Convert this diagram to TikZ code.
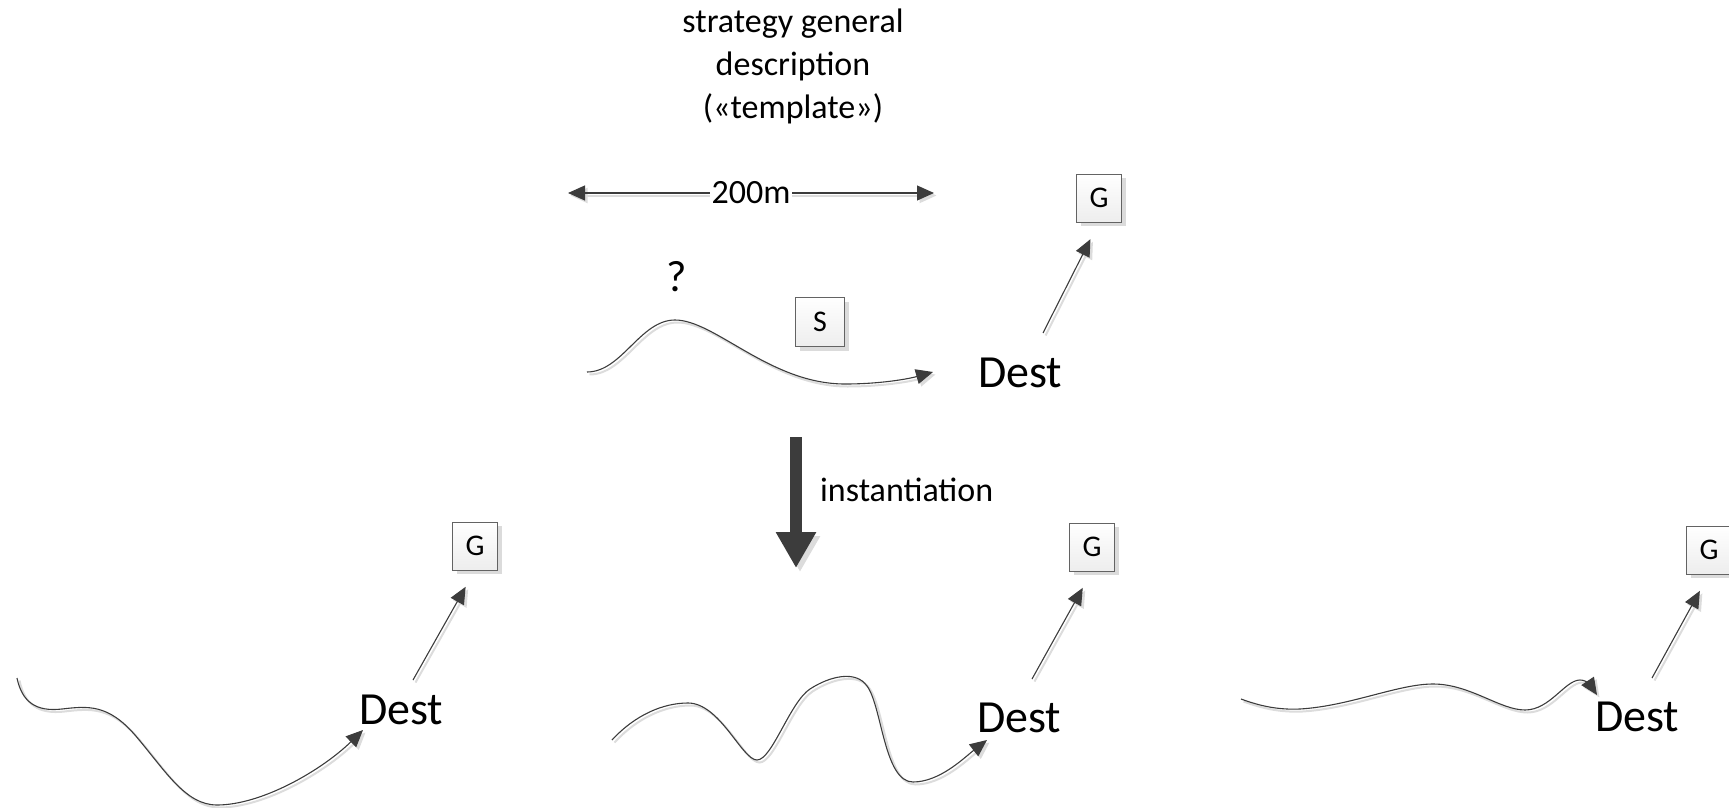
\documentclass[tikz,border=0pt]{standalone}
\usepackage{fontspec}
\setmainfont{Carlito}
\usetikzlibrary{arrows.meta,shadows,calc}
\definecolor{ln}{HTML}{3C3C3C}
\definecolor{shd}{HTML}{DCDCDC}
\begin{document}
\begin{tikzpicture}[x=1pt,y=-1pt,
  lbl/.style={font=\fontsize{34}{43}\selectfont, align=center, inner sep=0pt},
  dest/.style={font=\fontsize{46}{50}\selectfont, anchor=base west, inner sep=0pt},
  box/.style={draw=ln!80, top color=white, bottom color=gray!14,
    minimum width=45pt, minimum height=48pt, inner sep=0pt,
    font=\fontsize{30}{30}\selectfont,
    drop shadow={shadow xshift=4pt, shadow yshift=-4pt, fill=black!14, opacity=1}},
  tip/.style={-{Triangle[length=17pt,width=15pt]}},
  conn/.style={draw=ln, line width=1.1pt, tip,
    preaction={draw=shd, line width=2pt, transform canvas={shift={(2.5pt,-2.5pt)}}}},
  big/.style={draw=ln, line width=12pt, -{Triangle[length=36pt,width=38pt]},
    preaction={draw=shd, transform canvas={shift={(4pt,-4pt)}}}}
]
\useasboundingbox (0,0) rectangle (1729,808);

% template part
\node[lbl] (title) at (793,66) {strategy general\\description\\(«template»)};
\coordinate (al) at (568,193);
\coordinate (ar) at (934,193);
\draw[draw=ln, line width=1.1pt, {Triangle[length=17pt,width=15pt]}-{Triangle[length=17pt,width=15pt]},
  preaction={draw=shd, line width=2pt, transform canvas={shift={(2.5pt,-2.5pt)}}}]
  (al) -- (ar);
\node[lbl, fill=white, inner xsep=2pt] (dist) at (751,193) {200m};
\node[font=\fontsize{44}{44}\selectfont, inner sep=0pt] (q) at (677,277) {?};
\node[box, minimum width=49pt, minimum height=49pt] (s) at (820,322) {S};

\node[dest] (d0) at (978,387) {Dest};
\node[box] (g0) at (1099,198) {G};
\coordinate (c0s) at (587,372);
\coordinate (c0e) at (933,372);
\draw[conn] (c0s) .. controls (622,372) and (640,320) .. (675,320)
  .. controls (715,320) and (770,384) .. (845,384)
  .. controls (880,384) and (908,379) .. (c0e);
\coordinate (s0) at (1043,333);
\draw[conn, shorten >=19pt] (s0) -- (g0.south);

% instantiation arrow
\coordinate (ia) at (796,437);
\coordinate (ib) at (796,568);
\draw[big] (ia) -- (ib);
\node[lbl, anchor=west] (inst) at (820,490) {instantiation};

% instance 1
\node[dest] (d1) at (359,724) {Dest};
\node[box] (g1) at (475,546) {G};
\coordinate (c1s) at (17,678);
\coordinate (c1e) at (363,730);
\draw[conn] (c1s) .. controls (22,702) and (36,712) .. (62,709)
  .. controls (88,706) and (108,704) .. (135,735)
  .. controls (165,770) and (185,805) .. (217,805)
  .. controls (262,805) and (322,770) .. (c1e);
\coordinate (s1) at (413,680);
\draw[conn, shorten >=19pt] (s1) -- (g1.south);

% instance 2
\node[dest] (d2) at (977,732) {Dest};
\node[box] (g2) at (1092,547) {G};
\coordinate (c2s) at (612,740);
\coordinate (c2e) at (987,740);
\draw[conn] (c2s) .. controls (635,715) and (663,703) .. (688,703)
  .. controls (720,703) and (742,760) .. (757,760)
  .. controls (772,760) and (790,702) .. (810,689)
  .. controls (830,676) and (856,670) .. (867,686)
  .. controls (882,706) and (884,782) .. (913,782)
  .. controls (940,782) and (965,757) .. (c2e);
\coordinate (s2) at (1032,679);
\draw[conn, shorten >=19pt] (s2) -- (g2.south);

% instance 3
\node[dest] (d3) at (1595,731) {Dest};
\node[box] (g3) at (1709,550) {G};
\coordinate (c3s) at (1241,699);
\coordinate (c3e) at (1597,695);
\draw[conn] (c3s) .. controls (1260,706) and (1278,710) .. (1300,709)
  .. controls (1350,706) and (1398,684) .. (1433,684)
  .. controls (1470,684) and (1500,710) .. (1525,710)
  .. controls (1550,710) and (1565,680) .. (1580,680)
  .. controls (1587,680) and (1591,686) .. (c3e);
\coordinate (s3) at (1652,678);
\draw[conn, shorten >=19pt] (s3) -- (g3.south);
\end{tikzpicture}
\end{document}
